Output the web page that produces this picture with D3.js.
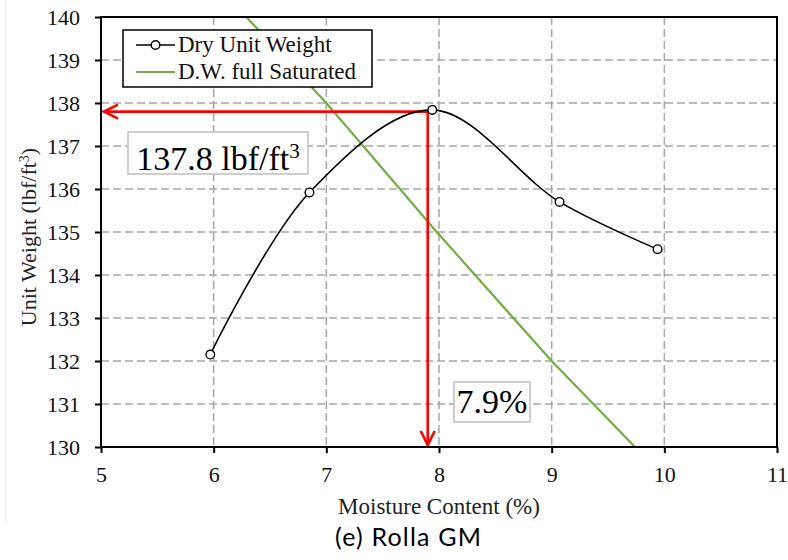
<!DOCTYPE html>
<html>
<head>
<meta charset="utf-8">
<script src="https://cdn.jsdelivr.net/npm/d3@7"></script>
<style>
  html, body { margin: 0; padding: 0; background: #fff; }
  svg { display: block; }
  .serif { font-family: "Liberation Serif", "Times New Roman", serif; }
</style>
</head>
<body>
<svg id="chart" width="788" height="560"></svg>
<script>
// Compaction test: dry unit weight vs. moisture content
const moisture = [5.97, 6.85, 7.94, 9.07, 9.94];
const dryUnitWeight = [132.15, 135.92, 137.84, 135.7, 134.6];

// Zero-air-voids (fully saturated) line
const satMoisture = [6.29, 7.0, 7.98, 9.0, 9.74];
const satUnitWeight = [140, 138, 135, 132, 130];

// Optimum read-off
const optMoisture = 7.9;
const optUnitWeight = 137.8;

const xTicks = [5, 6, 7, 8, 9, 10, 11];
const yTicks = [130, 131, 132, 133, 134, 135, 136, 137, 138, 139, 140];

const legendLabels = ["Dry Unit Weight", "D.W. full Saturated"];

const svg = d3.select("#chart");
const m = { left: 101, top: 17, right: 777, bottom: 447 };

const x = d3.scaleLinear().domain([5, 11]).range([m.left, m.right]);
const y = d3.scaleLinear().domain([130, 140]).range([m.bottom, m.top]);

// thin frame line at the far left
svg.append("line")
  .attr("x1", 5.5).attr("x2", 5.5).attr("y1", 0).attr("y2", 523)
  .attr("stroke", "#ebebeb").attr("stroke-width", 1);

// dashed grid
const grid = svg.append("g").attr("stroke", "#a6a6a6").attr("stroke-width", 1.5)
  .attr("stroke-dasharray", "8,4");
grid.selectAll("line.h").data(yTicks.filter(d => d > 130 && d < 140)).join("line")
  .attr("class", "h")
  .attr("x1", m.left).attr("x2", m.right)
  .attr("y1", d => y(d)).attr("y2", d => y(d));
grid.selectAll("line.v").data(xTicks.filter(d => d > 5 && d < 11)).join("line")
  .attr("class", "v")
  .attr("y1", m.top).attr("y2", m.bottom)
  .attr("x1", d => x(d)).attr("x2", d => x(d));

// saturated line
const satData = satMoisture.map((d, i) => [d, satUnitWeight[i]]);
svg.append("path")
  .datum(satData)
  .attr("fill", "none")
  .attr("stroke", "#70ad47")
  .attr("stroke-width", 2.2)
  .attr("d", d3.line().x(d => x(d[0])).y(d => y(d[1])));

// red read-off arrows
const red = svg.append("g").attr("stroke", "#ff0000").attr("stroke-width", 2.6)
  .attr("fill", "none").attr("stroke-linecap", "butt");
red.append("line")
  .attr("x1", x(5) + 2).attr("x2", x(optMoisture))
  .attr("y1", y(optUnitWeight)).attr("y2", y(optUnitWeight));
red.append("path")
  .attr("d", `M${x(5) + 17},${y(optUnitWeight) - 7} L${x(5) + 3},${y(optUnitWeight)} L${x(5) + 17},${y(optUnitWeight) + 7}`);
red.append("line")
  .attr("x1", x(optMoisture)).attr("x2", x(optMoisture))
  .attr("y1", y(optUnitWeight) - 1.3).attr("y2", y(130) - 2);
red.append("path")
  .attr("d", `M${x(optMoisture) - 7},${y(130) - 16} L${x(optMoisture)},${y(130) - 2} L${x(optMoisture) + 7},${y(130) - 16}`);

// dry unit weight curve
const dryData = moisture.map((d, i) => [d, dryUnitWeight[i]]);
svg.append("path")
  .datum(dryData)
  .attr("fill", "none")
  .attr("stroke", "#000")
  .attr("stroke-width", 1.6)
  .attr("d", d3.line().curve(d3.curveCatmullRom.alpha(0.5)).x(d => x(d[0])).y(d => y(d[1])));
svg.selectAll("circle.pt").data(dryData).join("circle")
  .attr("class", "pt")
  .attr("cx", d => x(d[0])).attr("cy", d => y(d[1])).attr("r", 4.3)
  .attr("fill", "#fff").attr("stroke", "#000").attr("stroke-width", 1.4);

// axes
const yAxis = svg.append("g").attr("class", "serif")
  .attr("transform", `translate(${m.left},0)`)
  .call(d3.axisLeft(y).tickValues(yTicks).tickFormat(d3.format("d")).tickSize(6).tickPadding(15));
const xAxis = svg.append("g").attr("class", "serif")
  .attr("transform", `translate(0,${m.bottom})`)
  .call(d3.axisBottom(x).tickValues(xTicks).tickFormat(d3.format("d")).tickSize(6).tickPadding(13));
[yAxis, xAxis].forEach(a => {
  a.select(".domain").remove();
  a.selectAll(".tick line").attr("stroke", "#000").attr("stroke-width", 2);
  a.selectAll(".tick text").attr("fill", "#111").style("font-size", "22px")
    .style("font-family", "'Liberation Serif', 'Times New Roman', serif");
});

// plot frame
svg.append("rect")
  .attr("x", m.left).attr("y", m.top)
  .attr("width", m.right - m.left).attr("height", m.bottom - m.top)
  .attr("fill", "none").attr("stroke", "#000").attr("stroke-width", 2);

// value labels
function valueBox(x0, y0, w, h, baseline, parts) {
  const g = svg.append("g");
  g.append("rect").attr("x", x0).attr("y", y0).attr("width", w).attr("height", h)
    .attr("fill", "#fff").attr("stroke", "#bfbfbf").attr("stroke-width", 1.5);
  const t = g.append("text").attr("class", "serif").attr("x", x0 + w / 2).attr("y", baseline)
    .attr("text-anchor", "middle").attr("fill", "#000").style("font-size", "34px");
  parts.forEach(p => {
    const s = t.append("tspan").text(p.text);
    if (p.sup) s.attr("dy", "-12").style("font-size", "21px");
  });
}
valueBox(128, 132, 180, 42, 170, [{ text: optUnitWeight.toFixed(1) + " lbf/ft" }, { text: "3", sup: true }]);
valueBox(454, 382, 76, 40, 413, [{ text: optMoisture.toFixed(1) + "%" }]);

// legend
const lg = svg.append("g");
lg.append("rect").attr("x", 123).attr("y", 30).attr("width", 249).attr("height", 57)
  .attr("fill", "#fff").attr("stroke", "#000").attr("stroke-width", 1.5);
lg.append("line").attr("x1", 136).attr("x2", 175).attr("y1", 45).attr("y2", 45)
  .attr("stroke", "#000").attr("stroke-width", 1.6);
lg.append("circle").attr("cx", 155.5).attr("cy", 45).attr("r", 4.3)
  .attr("fill", "#fff").attr("stroke", "#000").attr("stroke-width", 1.4);
lg.append("line").attr("x1", 136).attr("x2", 175).attr("y1", 72).attr("y2", 72)
  .attr("stroke", "#70ad47").attr("stroke-width", 2.2);
lg.selectAll("text").data(legendLabels).join("text")
  .attr("class", "serif")
  .attr("x", 178).attr("y", (d, i) => 52 + i * 27)
  .attr("fill", "#111").style("font-size", "23px")
  .text(d => d);

// axis titles
svg.append("text").attr("class", "serif")
  .attr("x", 439).attr("y", 514).attr("text-anchor", "middle")
  .attr("fill", "#222").style("font-size", "23px")
  .text("Moisture Content (%)");
const yt = svg.append("text").attr("class", "serif")
  .attr("transform", "translate(36,237) rotate(-90)")
  .attr("text-anchor", "middle").attr("fill", "#222").style("font-size", "22px");
yt.append("tspan").text("Unit Weight (lbf/ft");
yt.append("tspan").attr("dy", -7).style("font-size", "14px").text("3");
yt.append("tspan").attr("dy", 7).text(")");

// caption
svg.append("text")
  .attr("x", 335).attr("y", 546)
  .attr("fill", "#000")
  .style("font-family", "Lato, 'Open Sans', sans-serif")
  .style("font-size", "25px")
  .style("letter-spacing", "1.2px")
  .text("(e) Rolla GM");
</script>
</body>
</html>
